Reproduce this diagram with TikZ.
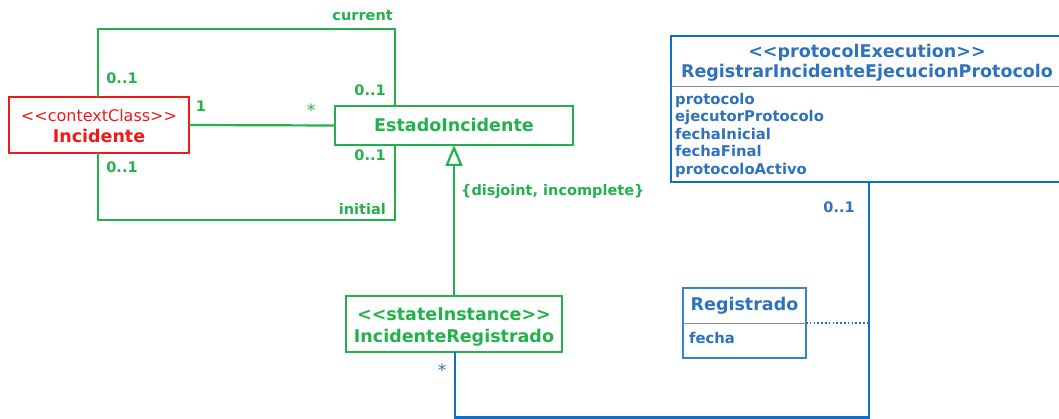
\documentclass[tikz,border=0pt]{standalone}
\usepackage{fontspec}
\setmainfont{DejaVu Sans}
\usetikzlibrary{arrows.meta}
\definecolor{umlgreen}{HTML}{22B14C}
\definecolor{umlred}{HTML}{F01818}
\definecolor{umlblue}{HTML}{1070C8}
\definecolor{txtblue}{HTML}{2E72BE}
\definecolor{sepgray}{HTML}{8A8A8A}
% stereotype brackets typed so that they are not joined into guillemets
\newcommand{\stlt}{<{}<}
\newcommand{\stgt}{>{}>}
\begin{document}
\begin{tikzpicture}[x=1pt,y=-1pt,
  classbox/.style={draw,line width=2.2pt,inner sep=0pt,outer sep=0pt},
  title/.style={font=\bfseries\fontsize{17.5}{20}\selectfont,anchor=base,inner sep=0pt},
  stereo/.style={font=\fontsize{16}{19}\selectfont,anchor=base,inner sep=0pt},
  lbl/.style={font=\bfseries\fontsize{14.5}{17}\selectfont,inner sep=0pt},
  attr/.style={font=\bfseries\fontsize{14.8}{17}\selectfont,anchor=base west,inner sep=0pt,text=txtblue},
  assoc/.style={line width=2.2pt,draw=umlgreen},
  blueassoc/.style={line width=2.2pt,draw=umlblue},
  generalization/.style={line width=2.2pt,draw=umlgreen,
    -{Triangle[open,length=21pt,width=17pt]}},
  assocclass/.style={line width=1.6pt,draw=umlblue,dash pattern=on 1.6pt off 2.2pt},
  separator/.style={line width=1pt,draw=sepgray}]

\path[use as bounding box,clip] (0,0) rectangle (1059,419);

% ---- class boxes ----
\node[classbox,draw=umlred,minimum width=180pt,minimum height=56pt] (inc) at (99,125) {};
\node[classbox,draw=umlgreen,minimum width=238pt,minimum height=39pt] (est) at (454,125.5) {};
\node[classbox,draw=umlgreen,minimum width=216pt,minimum height=56pt] (reg) at (454,324) {};
\node[classbox,draw=umlblue,minimum width=392pt,minimum height=146pt] (prot) at (867,109) {};
\node[classbox,draw=umlblue!85!white,minimum width=123pt,minimum height=70pt] (regd) at (744.5,323) {};

% compartment separators
\draw[separator] (prot.west |- 0,87) -- (prot.east |- 0,87);
\draw[separator] (regd.west) -- (regd.east);

% ---- class texts ----
\node[stereo,text=umlred] (incst) at (99,121.5) {\stlt contextClass\stgt};
\node[title,text=umlred] (incnm) at (99,142.3) {Incidente};
\node[title,text=umlgreen] (estnm) at (454,131.7) {EstadoIncidente};
\node[title,text=umlgreen] (regst) at (454,320) {\stlt stateInstance\stgt};
\node[title,text=umlgreen] (regnm) at (454,342) {IncidenteRegistrado};
\node[title,text=txtblue] (protst) at (867,57.5) {\stlt protocolExecution\stgt};
\node[title,text=txtblue] (protnm) at (867,78) {RegistrarIncidenteEjecucionProtocolo};
\node[attr] (a1) at (675,104.5) {protocolo};
\node[attr] (a2) at (675,122) {ejecutorProtocolo};
\node[attr] (a3) at (675,139.5) {fechaInicial};
\node[attr] (a4) at (675,157) {fechaFinal};
\node[attr] (a5) at (675,174.5) {protocoloActivo};
\node[title,text=txtblue] (regdnm) at (744.5,311) {Registrado};
\node[attr] (regdat) at (689,343) {fecha};

% ---- associations between Incidente and EstadoIncidente ----
\draw[assoc] ([xshift=-1pt]inc.north) -- ++(0,-68) -| ([xshift=-59pt]est.north);
\draw[assoc] ([xshift=-1pt]inc.south) -- ++(0,67) -| ([xshift=-59pt]est.south);
\draw[assoc] (inc.east) -- (est.west);

\node[lbl,text=umlgreen,anchor=base east] (lcur) at (393,20.7) {current};
\node[lbl,text=umlgreen,anchor=base] (m1) at (122,83.3) {0..1};
\node[lbl,text=umlgreen,anchor=base] (m2) at (370,96) {0..1};
\node[lbl,text=umlgreen,anchor=base] (m3) at (122,172.3) {0..1};
\node[lbl,text=umlgreen,anchor=base] (m4) at (370,160.7) {0..1};
\node[lbl,text=umlgreen,anchor=base east] (lini) at (386,214.3) {initial};
\node[lbl,text=umlgreen,anchor=base] (m5) at (201,111.7) {1};
\node[lbl,text=umlgreen,font=\fontsize{17}{18}\selectfont] (m6) at (311,110.5) {*};

% ---- generalization ----
\draw[generalization] (reg.north) -- (est.south);
\node[lbl,text=umlgreen,anchor=base west] (gset) at (461,196) {\{disjoint, incomplete\}};

% ---- association to the protocol execution ----
\draw[blueassoc] ([xshift=2pt]prot.south) -- ++(0,235.5) -| ([xshift=1pt]reg.south);
\node[lbl,text=txtblue,anchor=base] (m7) at (839,212.3) {0..1};
\node[lbl,text=txtblue,font=\fontsize{17}{18}\selectfont] (m8) at (442,370.5) {*};

% association class link
\coordinate (assocpt) at (869,323);
\draw[assocclass] (regd.east) -- (assocpt);

\end{tikzpicture}
\end{document}
